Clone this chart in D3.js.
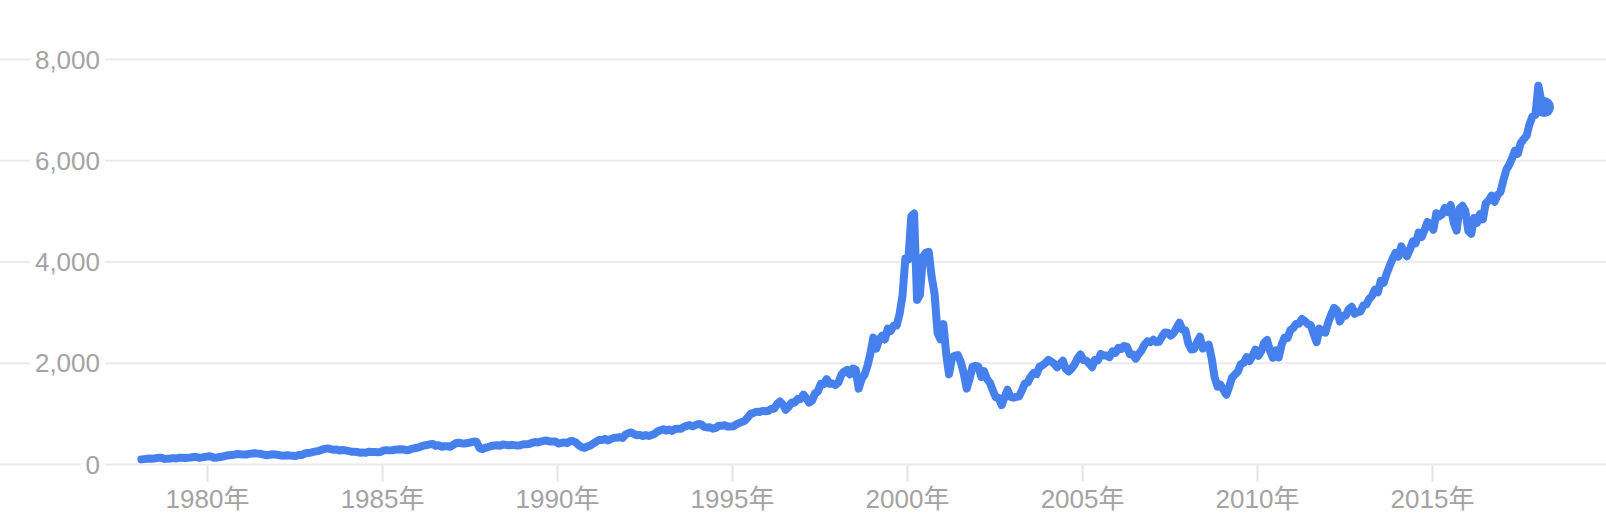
<!DOCTYPE html>
<html>
<head>
<meta charset="utf-8">
<script src="https://cdn.jsdelivr.net/npm/d3@7"></script>
<style>
  html, body { margin: 0; padding: 0; background: #fff; }
  svg { display: block; }
  text { font-family: Arial, "Liberation Sans", "Noto Sans CJK SC", sans-serif; }
</style>
</head>
<body>
<svg id="chart" width="1606" height="531"></svg>
<script>
// ---- data (monthly, starting Feb 1978) ----
const startMonth = "1978-02";
const values1978to1989 = [
  101, 106, 112, 118, 116, 124, 133, 132, 111, 115, 118,
  126, 120, 131, 132, 128, 135, 138, 149, 146, 131, 140, 151,
  161, 158, 131, 139, 150, 157, 172, 182, 188, 193, 208, 202,
  198, 198, 210, 216, 223, 215, 211, 196, 181, 193, 201, 196,
  188, 178, 175, 183, 176, 171, 167, 188, 187, 213, 229, 232,
  248, 260, 270, 293, 308, 318, 303, 292, 296, 276, 285, 279,
  268, 252, 250, 247, 234, 239, 230, 254, 249, 247, 242, 247,
  278, 284, 279, 281, 291, 296, 302, 298, 280, 292, 314, 325,
  336, 359, 375, 384, 400, 405, 371, 382, 350, 361, 360, 349,
  392, 425, 431, 417, 416, 425, 435, 455, 444, 323, 305, 331,
  345, 367, 375, 379, 371, 395, 387, 377, 388, 382, 372, 381,
  401, 400, 406, 427, 446, 435, 454, 469, 473, 456, 456, 455
];
const values1990to1999 = [
  416, 425, 436, 421, 459, 462, 438, 381, 344, 329, 359, 374,
  414, 453, 482, 485, 506, 475, 502, 526, 527, 542, 523, 586,
  620, 633, 603, 579, 585, 563, 581, 563, 584, 605, 652, 677,
  696, 671, 690, 662, 700, 704, 705, 742, 763, 779, 754, 777,
  800, 793, 743, 733, 735, 706, 722, 765, 764, 777, 750, 752,
  755, 793, 817, 843, 865, 933, 1001, 1020, 1044, 1036, 1059, 1052,
  1060, 1100, 1101, 1191, 1243, 1185, 1081, 1141, 1227, 1222, 1293, 1291,
  1380, 1309, 1222, 1261, 1400, 1442, 1594, 1587, 1686, 1594, 1601, 1570,
  1619, 1771, 1835, 1869, 1779, 1895, 1872, 1499, 1694, 1771, 1950, 2193,
  2506, 2288, 2461, 2543, 2471, 2686, 2638, 2739, 2746, 2966, 3336, 4069
];
const values2000to2009 = [
  4050, 4900, 4960, 3250, 3350, 4100, 4180, 4200, 3700, 3370, 2600, 2470,
  2772, 2152, 1780, 2116, 2150, 2161, 2027, 1805, 1499, 1690, 1931, 1950,
  1934, 1731, 1845, 1688, 1616, 1463, 1328, 1315, 1172, 1330, 1479, 1336,
  1321, 1337, 1341, 1464, 1596, 1623, 1735, 1810, 1787, 1932, 1960, 2003,
  2066, 2030, 1994, 1920, 1987, 2048, 1887, 1838, 1897, 1975, 2097, 2175,
  2062, 2052, 1999, 1922, 2068, 2057, 2185, 2152, 2151, 2120, 2233, 2205,
  2306, 2281, 2340, 2323, 2179, 2172, 2091, 2184, 2258, 2367, 2432, 2415,
  2464, 2416, 2422, 2525, 2605, 2603, 2546, 2596, 2701, 2800, 2661, 2652,
  2389, 2271, 2279, 2413, 2523, 2293, 2326, 2368, 2092, 1721, 1536, 1577,
  1476, 1378, 1529, 1717, 1774, 1835, 1979, 2009, 2122, 2045, 2145, 2269
];
const values2010to2018 = [
  2147, 2238, 2398, 2461, 2257, 2109, 2255, 2114, 2369, 2507, 2498, 2653,
  2700, 2782, 2781, 2874, 2835, 2774, 2756, 2579, 2415, 2684, 2620, 2605,
  2814, 2967, 3092, 3046, 2827, 2935, 2940, 3067, 3116, 2977, 3010, 3020,
  3142, 3160, 3268, 3329, 3456, 3403, 3626, 3590, 3771, 3920, 4060, 4177,
  4104, 4308, 4199, 4115, 4243, 4408, 4370, 4580, 4493, 4631, 4792, 4736,
  4635, 4964, 4901, 4941, 5070, 4987, 5128, 4777, 4620, 5054, 5109, 5007,
  4614, 4558, 4870, 4775, 4948, 4843, 5162, 5213, 5312, 5189, 5324, 5383,
  5615, 5825, 5912, 6048, 6199, 6140, 6348, 6429, 6496, 6728, 6874, 6903,
  7480, 7180, 7060
];
const yTicks = [0, 2000, 4000, 6000, 8000];
const xTickYears = [1980, 1985, 1990, 1995, 2000, 2005, 2010, 2015];
const xTickSuffix = "年";

// ---- build series ----
const allValues = [].concat(values1978to1989, values1990to1999, values2000to2009, values2010to2018);
const parseMonth = d3.timeParse("%Y-%m");
const start = d3.timeDay.offset(parseMonth(startMonth), 14);
const series = allValues.map((v, i) => ({ date: d3.timeMonth.offset(start, i), value: v }));

// ---- scales ----
const W = 1606, H = 531;
const x = d3.scaleTime()
  .domain([new Date(1980, 0, 1), new Date(2015, 0, 1)])
  .range([207, 1432]);
const y = d3.scaleLinear().domain([0, 8000]).range([464.5, 59.5]);

const svg = d3.select("#chart");
svg.append("rect").attr("width", W).attr("height", H).attr("fill", "#fff");

const gridColor = "#ebebeb";
const textColor = "#a3a3a3";
const lineColor = "#4580ec";

// gridlines + y labels
const yg = svg.append("g");
yTicks.forEach(t => {
  const yy = y(t);
  yg.append("line")
    .attr("x1", 0).attr("x2", W).attr("y1", yy).attr("y2", yy)
    .attr("stroke", gridColor).attr("stroke-width", 2);
  const label = yg.append("text")
    .attr("x", 100).attr("y", yy)
    .attr("text-anchor", "end")
    .attr("dominant-baseline", "central")
    .attr("font-size", 26)
    .attr("fill", textColor)
    .text(d3.format(",")(t));
  const bb = label.node().getBBox();
  yg.insert("rect", function() { return label.node(); })
    .attr("x", bb.x - 5).attr("y", yy - 3)
    .attr("width", bb.width + 10).attr("height", 6)
    .attr("fill", "#fff");
});

// x axis ticks
const xAxis = d3.axisBottom(x)
  .tickValues(xTickYears.map(yr => new Date(yr, 0, 1)))
  .tickSize(16)
  .tickPadding(8)
  .tickFormat(d => d.getFullYear() + xTickSuffix);
const xg = svg.append("g").attr("transform", `translate(0,${y(0) + 1})`).call(xAxis);
xg.select(".domain").remove();
xg.selectAll(".tick line").attr("stroke", "#e3e3e3").attr("stroke-width", 2);
xg.selectAll(".tick text")
  .attr("fill", textColor)
  .attr("font-size", 26)
  .attr("font-family", "Arial, 'Liberation Sans', 'Noto Sans CJK SC', sans-serif");

// line
const line = d3.line().x(d => x(d.date)).y(d => y(d.value));
svg.append("path")
  .datum(series)
  .attr("fill", "none")
  .attr("stroke", lineColor)
  .attr("stroke-width", 8)
  .attr("stroke-linejoin", "round")
  .attr("stroke-linecap", "round")
  .attr("d", line);

// end dot
const last = series[series.length - 1];
svg.append("circle")
  .attr("cx", x(last.date)).attr("cy", y(last.value))
  .attr("r", 10)
  .attr("fill", lineColor);
</script>
</body>
</html>
